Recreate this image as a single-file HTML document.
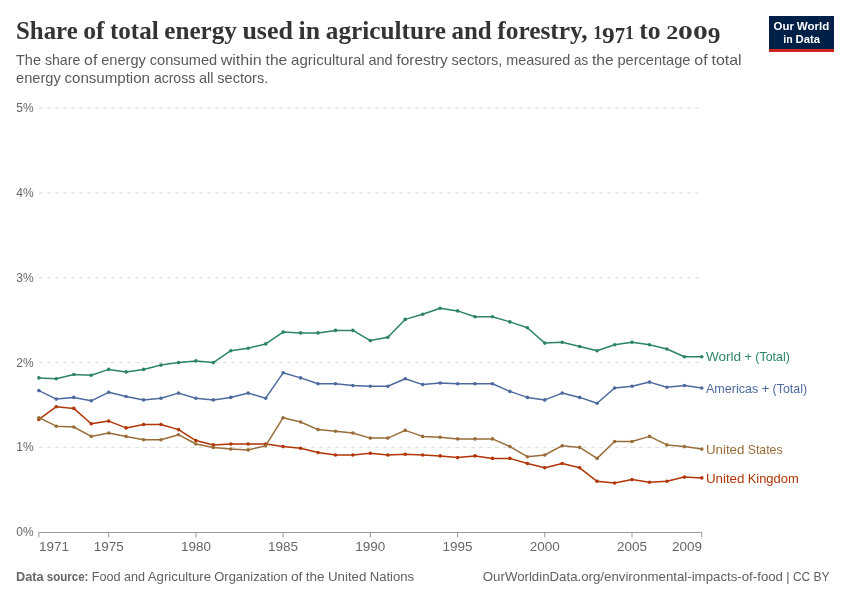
<!DOCTYPE html>
<html lang="en">
<head>
<meta charset="utf-8">
<title>Share of total energy used in agriculture and forestry, 1971 to 2009</title>
<style>
html,body{margin:0;padding:0;background:#fff;}
body{width:850px;height:600px;overflow:hidden;}
svg{display:block;}
text{font-family:"Liberation Sans",sans-serif;}
.serif{font-family:"Liberation Serif",serif;}
</style>
</head>
<body>
<svg width="850" height="600" viewBox="0 0 850 600">
<rect x="0" y="0" width="850" height="600" fill="#ffffff"/>
<g id="header">
<text y="38.9" font-size="26" fill="#343434" font-weight="bold" class="serif"><tspan x="16.0" y="38.9" textLength="61.7" lengthAdjust="spacingAndGlyphs">Share</tspan> <tspan x="83.3" y="38.9" textLength="21.3" lengthAdjust="spacingAndGlyphs">of</tspan> <tspan x="109.9" y="38.9" textLength="48.8" lengthAdjust="spacingAndGlyphs">total</tspan> <tspan x="164.3" y="38.9" textLength="72.6" lengthAdjust="spacingAndGlyphs">energy</tspan> <tspan x="242.4" y="38.9" textLength="50.6" lengthAdjust="spacingAndGlyphs">used</tspan> <tspan x="298.6" y="38.9" textLength="21.5" lengthAdjust="spacingAndGlyphs">in</tspan> <tspan x="325.8" y="38.9" textLength="120.2" lengthAdjust="spacingAndGlyphs">agriculture</tspan> <tspan x="451.5" y="38.9" textLength="40.2" lengthAdjust="spacingAndGlyphs">and</tspan> <tspan x="497.3" y="38.9" textLength="90.3" lengthAdjust="spacingAndGlyphs">forestry,</tspan> <tspan x="593.2" y="38.9" font-size="18.4" textLength="8.9" lengthAdjust="spacingAndGlyphs">1</tspan><tspan x="602.1" y="42.9" font-size="24" textLength="12.7" lengthAdjust="spacingAndGlyphs">9</tspan><tspan x="614.8" y="42.9" font-size="24" textLength="10.3" lengthAdjust="spacingAndGlyphs">7</tspan><tspan x="625.1" y="38.9" font-size="18.4" textLength="8.9" lengthAdjust="spacingAndGlyphs">1</tspan> <tspan x="639.3" y="38.9" textLength="21.4" lengthAdjust="spacingAndGlyphs">to</tspan> <tspan x="666.2" y="38.9" font-size="18.4" textLength="12.0" lengthAdjust="spacingAndGlyphs">2</tspan><tspan x="678.1" y="38.9" font-size="18.4" textLength="14.8" lengthAdjust="spacingAndGlyphs">0</tspan><tspan x="692.9" y="38.9" font-size="18.4" textLength="14.8" lengthAdjust="spacingAndGlyphs">0</tspan><tspan x="707.7" y="42.9" font-size="24" textLength="12.7" lengthAdjust="spacingAndGlyphs">9</tspan></text>
<text y="64.5" font-size="15" fill="#5a5a5a"><tspan x="16.0" textLength="25.0" lengthAdjust="spacingAndGlyphs">The</tspan> <tspan x="44.9" textLength="35.4" lengthAdjust="spacingAndGlyphs">share</tspan> <tspan x="84.1" textLength="13.3" lengthAdjust="spacingAndGlyphs">of</tspan> <tspan x="101.2" textLength="44.7" lengthAdjust="spacingAndGlyphs">energy</tspan> <tspan x="149.8" textLength="67.4" lengthAdjust="spacingAndGlyphs">consumed</tspan> <tspan x="220.7" textLength="41.1" lengthAdjust="spacingAndGlyphs">within</tspan> <tspan x="265.6" textLength="21.7" lengthAdjust="spacingAndGlyphs">the</tspan> <tspan x="291.1" textLength="73.5" lengthAdjust="spacingAndGlyphs">agricultural</tspan> <tspan x="368.4" textLength="24.2" lengthAdjust="spacingAndGlyphs">and</tspan> <tspan x="396.5" textLength="51.3" lengthAdjust="spacingAndGlyphs">forestry</tspan> <tspan x="451.6" textLength="50.8" lengthAdjust="spacingAndGlyphs">sectors,</tspan> <tspan x="506.2" textLength="64.1" lengthAdjust="spacingAndGlyphs">measured</tspan> <tspan x="574.1" textLength="14.0" lengthAdjust="spacingAndGlyphs">as</tspan> <tspan x="591.9" textLength="21.7" lengthAdjust="spacingAndGlyphs">the</tspan> <tspan x="617.4" textLength="73.1" lengthAdjust="spacingAndGlyphs">percentage</tspan> <tspan x="694.3" textLength="13.3" lengthAdjust="spacingAndGlyphs">of</tspan> <tspan x="711.5" textLength="30.1" lengthAdjust="spacingAndGlyphs">total</tspan></text>
<text y="82.6" font-size="15" fill="#5a5a5a"><tspan x="16.0" textLength="44.7" lengthAdjust="spacingAndGlyphs">energy</tspan> <tspan x="64.5" textLength="85.5" lengthAdjust="spacingAndGlyphs">consumption</tspan> <tspan x="153.9" textLength="41.3" lengthAdjust="spacingAndGlyphs">across</tspan> <tspan x="199.0" textLength="14.6" lengthAdjust="spacingAndGlyphs">all</tspan> <tspan x="217.3" textLength="50.9" lengthAdjust="spacingAndGlyphs">sectors.</tspan></text>
</g>
<g id="logo">
<rect x="769" y="16" width="65" height="36" fill="#002147"/>
<rect x="769" y="49" width="65" height="3" fill="#ce261e"/>
<text y="30.2" font-size="10.8" fill="#ffffff" font-weight="bold"><tspan x="773.6" textLength="20.3" lengthAdjust="spacingAndGlyphs">Our</tspan> <tspan x="796.7" textLength="32.5" lengthAdjust="spacingAndGlyphs">World</tspan></text>
<text y="42.5" font-size="10.8" fill="#ffffff" font-weight="bold"><tspan x="783.3" textLength="9.4" lengthAdjust="spacingAndGlyphs">in</tspan> <tspan x="795.5" textLength="24.5" lengthAdjust="spacingAndGlyphs">Data</tspan></text>
</g>
<g id="grid" stroke="#dddddd" stroke-width="1" stroke-dasharray="4 4" fill="none">
<line x1="39" y1="447.4" x2="701.8" y2="447.4"/>
<line x1="39" y1="362.6" x2="701.8" y2="362.6"/>
<line x1="39" y1="277.8" x2="701.8" y2="277.8"/>
<line x1="39" y1="193.0" x2="701.8" y2="193.0"/>
<line x1="39" y1="108.2" x2="701.8" y2="108.2"/>
</g>
<g id="ylabels">
<text x="16.3" y="536.2" font-size="13.5" fill="#666666" textLength="17.4" lengthAdjust="spacingAndGlyphs">0%</text>
<text x="16.3" y="451.4" font-size="13.5" fill="#666666" textLength="17.4" lengthAdjust="spacingAndGlyphs">1%</text>
<text x="16.3" y="366.6" font-size="13.5" fill="#666666" textLength="17.4" lengthAdjust="spacingAndGlyphs">2%</text>
<text x="16.3" y="281.8" font-size="13.5" fill="#666666" textLength="17.4" lengthAdjust="spacingAndGlyphs">3%</text>
<text x="16.3" y="197.0" font-size="13.5" fill="#666666" textLength="17.4" lengthAdjust="spacingAndGlyphs">4%</text>
<text x="16.3" y="112.2" font-size="13.5" fill="#666666" textLength="17.4" lengthAdjust="spacingAndGlyphs">5%</text>
</g>
<g id="xaxis" stroke="#999999" stroke-width="1" fill="none">
<line x1="38.4" y1="532.5" x2="701.9" y2="532.5"/>
<line x1="38.9" y1="532.5" x2="38.9" y2="537.5"/>
<line x1="108.7" y1="532.5" x2="108.7" y2="537.5"/>
<line x1="195.9" y1="532.5" x2="195.9" y2="537.5"/>
<line x1="283.1" y1="532.5" x2="283.1" y2="537.5"/>
<line x1="370.3" y1="532.5" x2="370.3" y2="537.5"/>
<line x1="457.6" y1="532.5" x2="457.6" y2="537.5"/>
<line x1="544.8" y1="532.5" x2="544.8" y2="537.5"/>
<line x1="632.0" y1="532.5" x2="632.0" y2="537.5"/>
<line x1="701.8" y1="532.5" x2="701.8" y2="537.5"/>
</g>
<g id="xlabels">
<text x="38.9" y="550.6" font-size="13.5" fill="#666666" textLength="30.0" lengthAdjust="spacingAndGlyphs">1971</text>
<text x="108.7" y="550.6" font-size="13.5" fill="#666666" textLength="30.0" lengthAdjust="spacingAndGlyphs" text-anchor="middle">1975</text>
<text x="195.9" y="550.6" font-size="13.5" fill="#666666" textLength="30.0" lengthAdjust="spacingAndGlyphs" text-anchor="middle">1980</text>
<text x="283.1" y="550.6" font-size="13.5" fill="#666666" textLength="30.0" lengthAdjust="spacingAndGlyphs" text-anchor="middle">1985</text>
<text x="370.3" y="550.6" font-size="13.5" fill="#666666" textLength="30.0" lengthAdjust="spacingAndGlyphs" text-anchor="middle">1990</text>
<text x="457.6" y="550.6" font-size="13.5" fill="#666666" textLength="30.0" lengthAdjust="spacingAndGlyphs" text-anchor="middle">1995</text>
<text x="544.8" y="550.6" font-size="13.5" fill="#666666" textLength="30.0" lengthAdjust="spacingAndGlyphs" text-anchor="middle">2000</text>
<text x="632.0" y="550.6" font-size="13.5" fill="#666666" textLength="30.0" lengthAdjust="spacingAndGlyphs" text-anchor="middle">2005</text>
<text x="701.9" y="550.6" font-size="13.5" fill="#666666" textLength="30.0" lengthAdjust="spacingAndGlyphs" text-anchor="end">2009</text>
</g>
<g id="world">
<polyline points="38.9,377.9 56.3,378.7 73.8,374.5 91.2,375.3 108.7,369.4 126.1,371.9 143.6,369.4 161.0,365.1 178.5,362.6 195.9,360.9 213.3,362.6 230.8,350.7 248.2,348.2 265.7,343.9 283.1,332.1 300.6,332.9 318.0,332.9 335.5,330.4 352.9,330.4 370.3,340.6 387.8,337.2 405.2,319.4 422.7,314.3 440.1,308.3 457.6,310.9 475.0,316.8 492.5,316.8 509.9,321.9 527.4,327.8 544.8,343.1 562.2,342.2 579.7,346.5 597.1,350.7 614.6,344.8 632.0,342.2 649.5,344.8 666.9,349.0 684.4,356.7 701.8,356.7" fill="none" stroke="#2c8465" stroke-width="1.5" stroke-linejoin="round" stroke-linecap="round"/>
<g fill="#2c8465">
<circle cx="38.9" cy="377.9" r="1.8"/><circle cx="56.3" cy="378.7" r="1.8"/><circle cx="73.8" cy="374.5" r="1.8"/><circle cx="91.2" cy="375.3" r="1.8"/><circle cx="108.7" cy="369.4" r="1.8"/><circle cx="126.1" cy="371.9" r="1.8"/><circle cx="143.6" cy="369.4" r="1.8"/><circle cx="161.0" cy="365.1" r="1.8"/><circle cx="178.5" cy="362.6" r="1.8"/><circle cx="195.9" cy="360.9" r="1.8"/><circle cx="213.3" cy="362.6" r="1.8"/><circle cx="230.8" cy="350.7" r="1.8"/><circle cx="248.2" cy="348.2" r="1.8"/><circle cx="265.7" cy="343.9" r="1.8"/><circle cx="283.1" cy="332.1" r="1.8"/><circle cx="300.6" cy="332.9" r="1.8"/><circle cx="318.0" cy="332.9" r="1.8"/><circle cx="335.5" cy="330.4" r="1.8"/><circle cx="352.9" cy="330.4" r="1.8"/><circle cx="370.3" cy="340.6" r="1.8"/><circle cx="387.8" cy="337.2" r="1.8"/><circle cx="405.2" cy="319.4" r="1.8"/><circle cx="422.7" cy="314.3" r="1.8"/><circle cx="440.1" cy="308.3" r="1.8"/><circle cx="457.6" cy="310.9" r="1.8"/><circle cx="475.0" cy="316.8" r="1.8"/><circle cx="492.5" cy="316.8" r="1.8"/><circle cx="509.9" cy="321.9" r="1.8"/><circle cx="527.4" cy="327.8" r="1.8"/><circle cx="544.8" cy="343.1" r="1.8"/><circle cx="562.2" cy="342.2" r="1.8"/><circle cx="579.7" cy="346.5" r="1.8"/><circle cx="597.1" cy="350.7" r="1.8"/><circle cx="614.6" cy="344.8" r="1.8"/><circle cx="632.0" cy="342.2" r="1.8"/><circle cx="649.5" cy="344.8" r="1.8"/><circle cx="666.9" cy="349.0" r="1.8"/><circle cx="684.4" cy="356.7" r="1.8"/><circle cx="701.8" cy="356.7" r="1.8"/>
</g>
<text y="361.4" font-size="13" fill="#2c8465"><tspan x="705.9" textLength="35.2" lengthAdjust="spacingAndGlyphs">World</tspan> <tspan x="744.4" textLength="7.5" lengthAdjust="spacingAndGlyphs">+</tspan> <tspan x="755.3" textLength="34.5" lengthAdjust="spacingAndGlyphs">(Total)</tspan></text>
</g>
<g id="americas">
<polyline points="38.9,390.6 56.3,399.1 73.8,397.4 91.2,400.8 108.7,392.3 126.1,396.5 143.6,399.9 161.0,398.2 178.5,393.1 195.9,398.2 213.3,399.9 230.8,397.4 248.2,393.1 265.7,398.2 283.1,372.8 300.6,377.9 318.0,383.8 335.5,383.8 352.9,385.5 370.3,386.3 387.8,386.3 405.2,378.7 422.7,384.6 440.1,383.0 457.6,383.8 475.0,383.8 492.5,383.8 509.9,391.4 527.4,397.4 544.8,399.9 562.2,393.1 579.7,397.4 597.1,403.3 614.6,388.0 632.0,386.3 649.5,382.1 666.9,387.2 684.4,385.5 701.8,388.0" fill="none" stroke="#4c6a9c" stroke-width="1.5" stroke-linejoin="round" stroke-linecap="round"/>
<g fill="#4c6a9c">
<circle cx="38.9" cy="390.6" r="1.8"/><circle cx="56.3" cy="399.1" r="1.8"/><circle cx="73.8" cy="397.4" r="1.8"/><circle cx="91.2" cy="400.8" r="1.8"/><circle cx="108.7" cy="392.3" r="1.8"/><circle cx="126.1" cy="396.5" r="1.8"/><circle cx="143.6" cy="399.9" r="1.8"/><circle cx="161.0" cy="398.2" r="1.8"/><circle cx="178.5" cy="393.1" r="1.8"/><circle cx="195.9" cy="398.2" r="1.8"/><circle cx="213.3" cy="399.9" r="1.8"/><circle cx="230.8" cy="397.4" r="1.8"/><circle cx="248.2" cy="393.1" r="1.8"/><circle cx="265.7" cy="398.2" r="1.8"/><circle cx="283.1" cy="372.8" r="1.8"/><circle cx="300.6" cy="377.9" r="1.8"/><circle cx="318.0" cy="383.8" r="1.8"/><circle cx="335.5" cy="383.8" r="1.8"/><circle cx="352.9" cy="385.5" r="1.8"/><circle cx="370.3" cy="386.3" r="1.8"/><circle cx="387.8" cy="386.3" r="1.8"/><circle cx="405.2" cy="378.7" r="1.8"/><circle cx="422.7" cy="384.6" r="1.8"/><circle cx="440.1" cy="383.0" r="1.8"/><circle cx="457.6" cy="383.8" r="1.8"/><circle cx="475.0" cy="383.8" r="1.8"/><circle cx="492.5" cy="383.8" r="1.8"/><circle cx="509.9" cy="391.4" r="1.8"/><circle cx="527.4" cy="397.4" r="1.8"/><circle cx="544.8" cy="399.9" r="1.8"/><circle cx="562.2" cy="393.1" r="1.8"/><circle cx="579.7" cy="397.4" r="1.8"/><circle cx="597.1" cy="403.3" r="1.8"/><circle cx="614.6" cy="388.0" r="1.8"/><circle cx="632.0" cy="386.3" r="1.8"/><circle cx="649.5" cy="382.1" r="1.8"/><circle cx="666.9" cy="387.2" r="1.8"/><circle cx="684.4" cy="385.5" r="1.8"/><circle cx="701.8" cy="388.0" r="1.8"/>
</g>
<text y="392.7" font-size="13" fill="#4c6a9c"><tspan x="705.9" textLength="52.5" lengthAdjust="spacingAndGlyphs">Americas</tspan> <tspan x="761.7" textLength="7.6" lengthAdjust="spacingAndGlyphs">+</tspan> <tspan x="772.6" textLength="34.5" lengthAdjust="spacingAndGlyphs">(Total)</tspan></text>
</g>
<g id="uk">
<polyline points="38.9,419.4 56.3,406.7 73.8,408.4 91.2,423.7 108.7,421.1 126.1,427.9 143.6,424.5 161.0,424.5 178.5,429.6 195.9,440.6 213.3,444.9 230.8,444.0 248.2,444.0 265.7,444.0 283.1,446.6 300.6,448.2 318.0,452.5 335.5,455.0 352.9,455.0 370.3,453.3 387.8,455.0 405.2,454.2 422.7,455.0 440.1,455.9 457.6,457.6 475.0,455.9 492.5,458.4 509.9,458.4 527.4,463.5 544.8,467.8 562.2,463.5 579.7,467.8 597.1,481.3 614.6,483.0 632.0,479.6 649.5,482.2 666.9,481.3 684.4,477.1 701.8,477.9" fill="none" stroke="#b13507" stroke-width="1.5" stroke-linejoin="round" stroke-linecap="round"/>
<g fill="#b13507">
<circle cx="38.9" cy="419.4" r="1.8"/><circle cx="56.3" cy="406.7" r="1.8"/><circle cx="73.8" cy="408.4" r="1.8"/><circle cx="91.2" cy="423.7" r="1.8"/><circle cx="108.7" cy="421.1" r="1.8"/><circle cx="126.1" cy="427.9" r="1.8"/><circle cx="143.6" cy="424.5" r="1.8"/><circle cx="161.0" cy="424.5" r="1.8"/><circle cx="178.5" cy="429.6" r="1.8"/><circle cx="195.9" cy="440.6" r="1.8"/><circle cx="213.3" cy="444.9" r="1.8"/><circle cx="230.8" cy="444.0" r="1.8"/><circle cx="248.2" cy="444.0" r="1.8"/><circle cx="265.7" cy="444.0" r="1.8"/><circle cx="283.1" cy="446.6" r="1.8"/><circle cx="300.6" cy="448.2" r="1.8"/><circle cx="318.0" cy="452.5" r="1.8"/><circle cx="335.5" cy="455.0" r="1.8"/><circle cx="352.9" cy="455.0" r="1.8"/><circle cx="370.3" cy="453.3" r="1.8"/><circle cx="387.8" cy="455.0" r="1.8"/><circle cx="405.2" cy="454.2" r="1.8"/><circle cx="422.7" cy="455.0" r="1.8"/><circle cx="440.1" cy="455.9" r="1.8"/><circle cx="457.6" cy="457.6" r="1.8"/><circle cx="475.0" cy="455.9" r="1.8"/><circle cx="492.5" cy="458.4" r="1.8"/><circle cx="509.9" cy="458.4" r="1.8"/><circle cx="527.4" cy="463.5" r="1.8"/><circle cx="544.8" cy="467.8" r="1.8"/><circle cx="562.2" cy="463.5" r="1.8"/><circle cx="579.7" cy="467.8" r="1.8"/><circle cx="597.1" cy="481.3" r="1.8"/><circle cx="614.6" cy="483.0" r="1.8"/><circle cx="632.0" cy="479.6" r="1.8"/><circle cx="649.5" cy="482.2" r="1.8"/><circle cx="666.9" cy="481.3" r="1.8"/><circle cx="684.4" cy="477.1" r="1.8"/><circle cx="701.8" cy="477.9" r="1.8"/>
</g>
<text y="482.6" font-size="13" fill="#b13507"><tspan x="705.9" textLength="38.5" lengthAdjust="spacingAndGlyphs">United</tspan> <tspan x="747.7" textLength="51.0" lengthAdjust="spacingAndGlyphs">Kingdom</tspan></text>
</g>
<g id="us">
<polyline points="38.9,417.7 56.3,426.2 73.8,427.0 91.2,436.4 108.7,433.0 126.1,436.4 143.6,439.8 161.0,439.8 178.5,434.7 195.9,444.0 213.3,447.4 230.8,449.1 248.2,449.9 265.7,445.7 283.1,417.7 300.6,422.0 318.0,429.6 335.5,431.3 352.9,433.0 370.3,438.1 387.8,438.1 405.2,430.4 422.7,436.4 440.1,437.2 457.6,438.9 475.0,438.9 492.5,438.9 509.9,446.6 527.4,456.7 544.8,455.0 562.2,445.7 579.7,447.4 597.1,458.4 614.6,441.5 632.0,441.5 649.5,436.4 666.9,444.9 684.4,446.6 701.8,449.1" fill="none" stroke="#996d39" stroke-width="1.5" stroke-linejoin="round" stroke-linecap="round"/>
<g fill="#996d39">
<circle cx="38.9" cy="417.7" r="1.8"/><circle cx="56.3" cy="426.2" r="1.8"/><circle cx="73.8" cy="427.0" r="1.8"/><circle cx="91.2" cy="436.4" r="1.8"/><circle cx="108.7" cy="433.0" r="1.8"/><circle cx="126.1" cy="436.4" r="1.8"/><circle cx="143.6" cy="439.8" r="1.8"/><circle cx="161.0" cy="439.8" r="1.8"/><circle cx="178.5" cy="434.7" r="1.8"/><circle cx="195.9" cy="444.0" r="1.8"/><circle cx="213.3" cy="447.4" r="1.8"/><circle cx="230.8" cy="449.1" r="1.8"/><circle cx="248.2" cy="449.9" r="1.8"/><circle cx="265.7" cy="445.7" r="1.8"/><circle cx="283.1" cy="417.7" r="1.8"/><circle cx="300.6" cy="422.0" r="1.8"/><circle cx="318.0" cy="429.6" r="1.8"/><circle cx="335.5" cy="431.3" r="1.8"/><circle cx="352.9" cy="433.0" r="1.8"/><circle cx="370.3" cy="438.1" r="1.8"/><circle cx="387.8" cy="438.1" r="1.8"/><circle cx="405.2" cy="430.4" r="1.8"/><circle cx="422.7" cy="436.4" r="1.8"/><circle cx="440.1" cy="437.2" r="1.8"/><circle cx="457.6" cy="438.9" r="1.8"/><circle cx="475.0" cy="438.9" r="1.8"/><circle cx="492.5" cy="438.9" r="1.8"/><circle cx="509.9" cy="446.6" r="1.8"/><circle cx="527.4" cy="456.7" r="1.8"/><circle cx="544.8" cy="455.0" r="1.8"/><circle cx="562.2" cy="445.7" r="1.8"/><circle cx="579.7" cy="447.4" r="1.8"/><circle cx="597.1" cy="458.4" r="1.8"/><circle cx="614.6" cy="441.5" r="1.8"/><circle cx="632.0" cy="441.5" r="1.8"/><circle cx="649.5" cy="436.4" r="1.8"/><circle cx="666.9" cy="444.9" r="1.8"/><circle cx="684.4" cy="446.6" r="1.8"/><circle cx="701.8" cy="449.1" r="1.8"/>
</g>
<text y="453.8" font-size="13" fill="#996d39"><tspan x="705.9" textLength="38.5" lengthAdjust="spacingAndGlyphs">United</tspan> <tspan x="747.7" textLength="34.9" lengthAdjust="spacingAndGlyphs">States</tspan></text>
</g>
<g id="footer">
<text y="580.7" font-size="13" fill="#606060"><tspan fill="#666666" x="16.0" textLength="27.7" lengthAdjust="spacingAndGlyphs" font-weight="bold">Data</tspan> <tspan fill="#666666" x="46.8" textLength="41.6" lengthAdjust="spacingAndGlyphs" font-weight="bold">source:</tspan> <tspan x="91.7" textLength="28.8" lengthAdjust="spacingAndGlyphs">Food</tspan> <tspan x="123.9" textLength="21.0" lengthAdjust="spacingAndGlyphs">and</tspan> <tspan x="147.8" textLength="63.2" lengthAdjust="spacingAndGlyphs">Agriculture</tspan> <tspan x="214.3" textLength="73.4" lengthAdjust="spacingAndGlyphs">Organization</tspan> <tspan x="290.9" textLength="11.6" lengthAdjust="spacingAndGlyphs">of</tspan> <tspan x="305.8" textLength="18.8" lengthAdjust="spacingAndGlyphs">the</tspan> <tspan x="327.9" textLength="38.5" lengthAdjust="spacingAndGlyphs">United</tspan> <tspan x="369.7" textLength="44.4" lengthAdjust="spacingAndGlyphs">Nations</tspan></text>
<text y="580.7" font-size="13" fill="#606060"><tspan x="482.8" textLength="300.2" lengthAdjust="spacingAndGlyphs">OurWorldinData.org/environmental-impacts-of-food</tspan> <tspan x="786.3" textLength="3.3" lengthAdjust="spacingAndGlyphs">|</tspan> <tspan x="792.9" textLength="17.2" lengthAdjust="spacingAndGlyphs">CC</tspan> <tspan x="813.4" textLength="16.2" lengthAdjust="spacingAndGlyphs">BY</tspan></text>
</g>
</svg>
</body>
</html>
